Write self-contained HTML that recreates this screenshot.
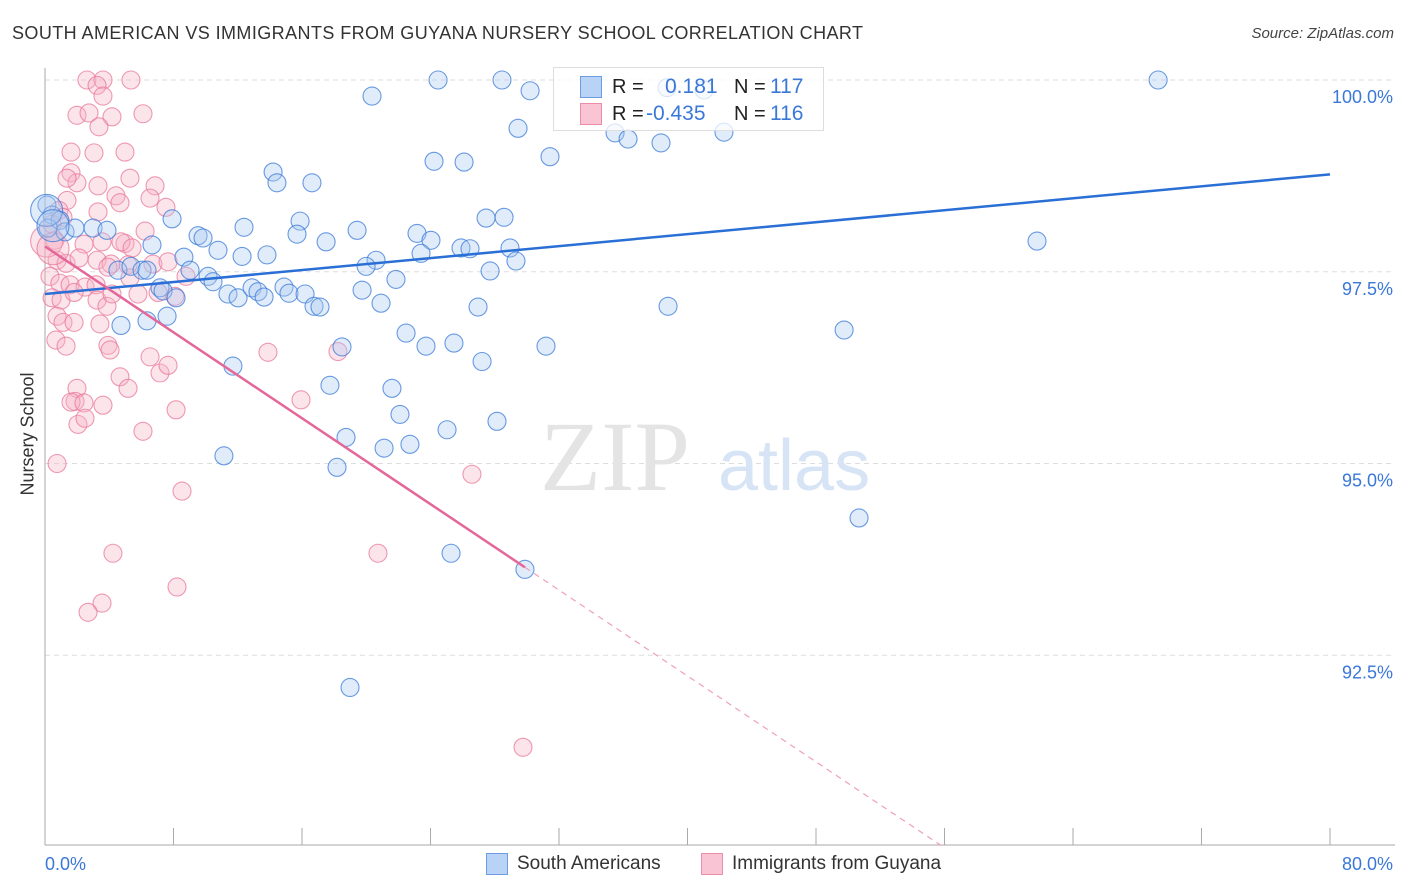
<!DOCTYPE html>
<html><head><meta charset="utf-8">
<style>
body{margin:0;background:#fff;font-family:"Liberation Sans",sans-serif;}
#wrap{position:relative;width:1406px;height:892px;overflow:hidden;}
.t{position:absolute;white-space:nowrap;}
</style></head>
<body>
<div id="wrap">
<div class="t" style="left:12px;top:23px;font-size:18px;color:#333;letter-spacing:0.42px;">SOUTH AMERICAN VS IMMIGRANTS FROM GUYANA NURSERY SCHOOL CORRELATION CHART</div>
<div class="t" style="right:12px;top:25px;font-size:15px;color:#444;font-style:italic;">Source: ZipAtlas.com</div>
<svg id="plot" width="1406" height="892" style="position:absolute;left:0;top:0"></svg>
<div class="t" style="left:-12px;top:445px;font-size:18px;color:#333;transform:rotate(-90deg);transform-origin:center;width:80px;text-align:center;">Nursery School</div>
<div style="position:absolute;left:553px;top:67px;width:269px;height:62px;border:1px solid #ddd;background:rgba(255,255,255,0.75);">
 <div style="position:absolute;left:26px;top:8px;width:20px;height:20px;background:#b8d3f5;border:1px solid #6b9de0;"></div>
 <div style="position:absolute;left:26px;top:35px;width:20px;height:20px;background:#f9c5d4;border:1px solid #ec8ca8;"></div>
 <div class="t" style="left:58px;top:8px;font-size:20px;color:#222;">R =</div>
 <div class="t" style="left:111px;top:7px;font-size:21px;color:#3a78d8;">0.181</div>
 <div class="t" style="left:180px;top:8px;font-size:20px;color:#222;">N =</div>
 <div class="t" style="left:216px;top:7px;font-size:21px;color:#3a78d8;">117</div>
 <div class="t" style="left:58px;top:35px;font-size:20px;color:#222;">R =</div>
 <div class="t" style="left:92px;top:34px;font-size:21px;color:#3a78d8;">-0.435</div>
 <div class="t" style="left:180px;top:35px;font-size:20px;color:#222;">N =</div>
 <div class="t" style="left:216px;top:34px;font-size:21px;color:#3a78d8;">116</div>
</div>
<div style="position:absolute;left:486px;top:853px;">
 <div style="position:absolute;left:0;top:0;width:20px;height:20px;background:#b8d3f5;border:1px solid #6b9de0;"></div>
 <div class="t" style="left:31px;top:0px;font-size:19px;color:#333;">South Americans</div>
</div>
<div style="position:absolute;left:701px;top:853px;">
 <div style="position:absolute;left:0;top:0;width:20px;height:20px;background:#f9c5d4;border:1px solid #ec8ca8;"></div>
 <div class="t" style="left:31px;top:0px;font-size:19px;color:#333;">Immigrants from Guyana</div>
</div>
</div>
<script>
const yTicks=[100,97.5,95,92.5];
const yTickLabels=["100.0%","97.5%","95.0%","92.5%"];
const xEnds=["0.0%","80.0%"];
const blueX=[24.47,28.45,69.30,20.36,30.20,29.45,35.49,36.30,38.35,42.27,31.44,24.22,26.09,14.20,14.44,16.62,0.12,0.44,0.93,0.19,1.25,1.87,2.99,3.86,7.91,12.39,15.88,15.69,19.43,23.16,24.03,27.46,28.58,9.53,9.84,6.66,8.65,10.77,12.27,13.82,17.50,20.61,19.99,23.41,25.90,26.46,28.95,29.32,27.71,61.76,9.03,10.15,10.46,4.54,5.35,6.04,6.35,7.16,7.35,8.16,11.39,12.02,12.89,13.26,13.64,14.88,15.19,16.19,16.75,17.12,19.74,20.92,21.85,26.96,38.79,4.73,6.35,7.60,22.48,23.72,25.46,27.21,31.19,18.49,49.75,11.70,17.74,21.60,22.10,25.03,28.14,18.74,21.11,22.72,18.18,11.14,50.68,25.28,29.88,18.99,38.73,41.03];
const blueY=[100,100,100,99.79,99.86,99.37,99.31,99.23,99.18,99.32,99.0,98.94,98.93,98.80,98.66,98.66,98.37,98.24,98.17,98.07,98.02,98.07,98.07,98.04,98.19,98.08,98.16,97.99,98.04,98.00,97.91,98.20,98.21,97.97,97.94,97.85,97.69,97.78,97.70,97.72,97.89,97.65,97.57,97.74,97.81,97.80,97.81,97.64,97.51,97.90,97.52,97.44,97.37,97.52,97.57,97.52,97.52,97.29,97.25,97.16,97.21,97.16,97.29,97.24,97.17,97.30,97.22,97.21,97.05,97.04,97.26,97.09,97.40,97.04,97.05,96.80,96.86,96.92,96.70,96.53,96.57,96.33,96.53,96.52,96.74,96.27,96.02,95.98,95.64,95.44,95.55,95.34,95.20,95.25,94.95,95.10,94.29,93.83,93.62,92.08,99.90,99.87];
const pinkX=[2.61,3.61,5.35,3.24,3.61,1.99,2.74,4.17,6.10,3.36,1.62,3.05,4.98,1.62,1.99,5.29,6.85,1.37,0.87,3.30,4.42,4.67,6.54,7.53,6.23,4.98,1.12,0.44,0.62,2.43,3.55,4.73,5.42,0.75,1.31,2.12,3.24,4.11,5.17,6.72,7.66,8.78,0.31,0.93,1.56,2.49,3.18,3.92,5.29,0.44,1.00,1.81,3.24,3.86,4.17,5.79,7.04,8.09,0.75,1.12,1.81,3.42,0.68,1.31,3.92,4.05,6.54,7.16,7.66,13.88,18.24,4.67,5.17,1.99,1.87,1.62,2.43,3.61,8.16,15.94,2.05,2.49,6.10,0.75,26.58,8.53,4.23,20.73,8.22,3.55,2.68,29.76,3.30,1.37];
const pinkY=[100,100,100,99.93,99.79,99.54,99.57,99.52,99.56,99.39,99.06,99.05,99.06,98.79,98.66,98.72,98.62,98.43,98.30,98.28,98.49,98.40,98.46,98.34,98.03,97.87,98.21,98.12,97.91,97.86,97.89,97.89,97.81,97.65,97.61,97.68,97.65,97.60,97.59,97.60,97.63,97.44,97.44,97.35,97.33,97.30,97.33,97.56,97.42,97.16,97.13,97.23,97.13,97.05,97.21,97.21,97.23,97.18,96.92,96.84,96.84,96.82,96.61,96.53,96.54,96.48,96.39,96.18,96.28,96.45,96.46,96.13,95.98,95.98,95.81,95.80,95.79,95.76,95.70,95.83,95.51,95.59,95.42,95.0,94.86,94.64,93.83,93.83,93.39,93.18,93.06,91.30,98.62,98.72];
const bigX=[0.1,0.5];
const bigY=[98.3,98.1];
const blueTrend=[97.21,98.77];
const pinkTrend=[97.83,-0.14];
const NS="http://www.w3.org/2000/svg";
const svg=document.getElementById('plot');
const X0=45,X1=1330,Y100=80,PXPER=76.7;
const xs=v=>X0+(v/80)*(X1-X0);
const ys=v=>Y100+(100-v)*PXPER;
function mk(tag,attrs){const e=document.createElementNS(NS,tag);for(const k in attrs)e.setAttribute(k,attrs[k]);svg.appendChild(e);return e;}
yTicks.forEach((t,i)=>{
 const g=mk('line',{x1:X0,x2:1395,y1:ys(t),y2:ys(t),stroke:'#ddd','stroke-dasharray':'5,4'});
 
 
 const tx=mk('text',{x:1393,y:ys(t)+23,'text-anchor':'end','font-size':'18','fill':'#3a78d8','font-family':'Liberation Sans, sans-serif'});
 tx.textContent=yTickLabels[i];
 
 
});
const ax=mk('line',{x1:X0,x2:X0,y1:68,y2:845,stroke:'#aaa'});


const bx=mk('line',{x1:X0,x2:1395,y1:845,y2:845,stroke:'#aaa'});


for(let v=0;v<=80;v+=8){
 const tk=mk('line',{x1:xs(v),x2:xs(v),y1:828,y2:845,stroke:'#aaa'});
 
 
}
[[0,'start',45],[80,'end',1393]].forEach((a,i)=>{
 const tx=mk('text',{x:a[2],y:870,'text-anchor':a[1],'font-size':'18','fill':'#3a78d8','font-family':'Liberation Sans, sans-serif'});
 tx.textContent=xEnds[i];
 
 
});
const w1=mk('text',{x:690,y:490,'text-anchor':'end','font-size':'100','fill':'#e4e4e4','font-family':'Liberation Serif, serif'});
w1.textContent='ZIP';


const w2=mk('text',{x:718,y:490,'font-size':'72','fill':'#d7e4f5','font-family':'Liberation Sans, sans-serif'});
w2.textContent='atlas';


function dots(XA,YA,fill,stroke,name,r){
 XA.forEach((x,i)=>{
  const c=mk('circle',{cx:xs(x),cy:ys(YA[i]),r:r,fill:fill,'fill-opacity':0.35,stroke:stroke,'stroke-width':1.1,'stroke-opacity':0.75});
  
  
 });
}
dots(pinkX,pinkY,'#f6b3c7','#e8789a','guyana-point',9);
dots(bigX,[97.9,97.8],'#f6b3c7','#e8789a','guyana-point-large',16);
dots(blueX,blueY,'#a9c9f2','#3a7ad8','south-american-point',9);
dots(bigX,bigY,'#a9c9f2','#3a7ad8','south-american-point-large',16);
const bl=mk('line',{x1:xs(0),y1:ys(blueTrend[0]),x2:xs(80),y2:ys(blueTrend[1]),stroke:'#2a6fd6','stroke-width':2.5});


const pSolidEnd=29.88, pEnd=(90-pinkTrend[0])/pinkTrend[1];
const pl=mk('line',{x1:xs(0),y1:ys(pinkTrend[0]),x2:xs(pSolidEnd),y2:ys(pinkTrend[0]+pinkTrend[1]*pSolidEnd),stroke:'#e4679a','stroke-width':2.5});


const pd=mk('line',{x1:xs(pSolidEnd),y1:ys(pinkTrend[0]+pinkTrend[1]*pSolidEnd),x2:xs(pEnd),y2:ys(90),stroke:'#eea0bb','stroke-width':1.2,'stroke-dasharray':'6,5'});


</script>
</body></html>
